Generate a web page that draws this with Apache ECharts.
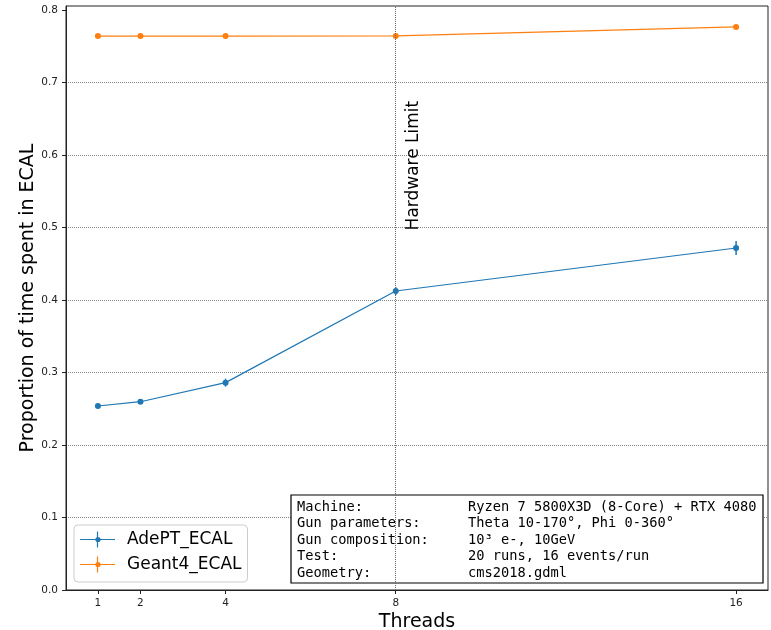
<!DOCTYPE html>
<html>
<head>
<meta charset="utf-8">
<script src="https://cdn.jsdelivr.net/npm/echarts@6/dist/echarts.min.js"></script>
<style>html,body{margin:0;padding:0;background:#fff}#c{width:771px;height:630px}</style>
</head>
<body>
<div id="c"></div>
<script>
const threads = [1, 2, 4, 8, 16];
const adeptValues = [0.2538, 0.2597, 0.2860, 0.4124, 0.4717];
const adeptErrors = [0.0015, 0.0015, 0.0055, 0.0055, 0.0097];
const geantValues = [0.7640, 0.7640, 0.7640, 0.7642, 0.7766];
const geantErrors = [0.0008, 0.0008, 0.0008, 0.0008, 0.0010];
const yTicks = [0.0, 0.1, 0.2, 0.3, 0.4, 0.5, 0.6, 0.7, 0.8];
const hardwareLimit = 8;
const infoLabels = ['Machine:', 'Gun parameters:', 'Gun composition:', 'Test:', 'Geometry:'];
const infoValues = ['Ryzen 7 5800X3D (8-Core) + RTX 4080', 'Theta 10-170°, Phi 0-360°', '10³ e-, 10GeV', '20 runs, 16 events/run', 'cms2018.gdml'];

const BLUE = '#1f77b4', ORANGE = '#ff7f0e';
const FONT = 'DejaVu Sans';
const legendIcon = 'path://M0,7.4 L35,7.4 L35,8.6 L0,8.6 Z M16.9,0 L18.1,0 L18.1,16 L16.9,16 Z M20.6,8 A2.6,2.6 0 1,1 15.4,8 A2.6,2.6 0 1,1 20.6,8 Z';

function pairs(xs, ys) { return xs.map((x, i) => [x, ys[i]]); }
function errData(xs, ys, es) { return xs.map((x, i) => [x, ys[i] - es[i], ys[i] + es[i]]); }

function errSeries(name, color, xs, ys, es) {
  return {
    type: 'custom', name: name, z: 3,
    data: errData(xs, ys, es),
    renderItem: function (params, api) {
      const lo = api.coord([api.value(0), api.value(1)]);
      const hi = api.coord([api.value(0), api.value(2)]);
      return { type: 'line', shape: { x1: lo[0], y1: lo[1], x2: hi[0], y2: hi[1] },
        style: { stroke: color, lineWidth: 1.5 } };
    },
    silent: true, legendHoverLink: false
  };
}

const chart = echarts.init(document.getElementById('c'), null, { renderer: 'canvas' });
const option = {
  animation: false,
  color: [BLUE, ORANGE],
  textStyle: { fontFamily: FONT },
  grid: { left: 66, right: 3, top: 6, bottom: 40, show: true, borderColor: '#222', borderWidth: 1,
    backgroundColor: 'transparent', containLabel: false, outerBoundsMode: 'none' },
  legend: {
    orient: 'vertical', left: 74, top: 525,
    data: [{ name: 'AdePT_ECAL', icon: legendIcon }, { name: 'Geant4_ECAL', icon: legendIcon }],
    itemWidth: 35, itemHeight: 16, itemGap: 8,
    padding: [6, 6, 9, 6],
    backgroundColor: 'rgba(255,255,255,0.85)', borderColor: '#cccccc', borderWidth: 1, borderRadius: 4,
    textStyle: { fontFamily: FONT, fontSize: 17, color: '#000', padding: [0, 0, 0, 7] }
  },
  xAxis: {
    type: 'value', min: 0.25, max: 16.75,
    name: 'Threads', nameLocation: 'middle', nameGap: 23, nameMoveOverlap: false,
    nameTextStyle: { fontFamily: FONT, fontSize: 19, color: '#000' },
    axisLine: { show: true, lineStyle: { color: '#222', width: 1 } },
    axisTick: { show: true, inside: false, length: 4, customValues: threads, lineStyle: { color: '#222' } },
    axisLabel: { customValues: threads, fontFamily: FONT, fontSize: 10.5, color: '#222', margin: 8 },
    splitLine: { show: false }
  },
  yAxis: {
    type: 'value', min: 0, max: 0.8055, interval: 0.1,
    name: 'Proportion of time spent in ECAL', nameLocation: 'middle', nameGap: 28, nameMoveOverlap: false,
    nameTextStyle: { fontFamily: FONT, fontSize: 19, color: '#000' },
    axisLine: { show: true, lineStyle: { color: '#222', width: 1 } },
    axisTick: { show: true, inside: false, length: 4, customValues: yTicks, lineStyle: { color: '#222' } },
    axisLabel: { customValues: yTicks, fontFamily: FONT, fontSize: 10.5, color: '#222', margin: 8,
      formatter: v => v.toFixed(1) },
    splitLine: { show: true, showMaxLine: false, lineStyle: { type: 'dotted', color: '#888', width: 1 } }
  },
  series: [
    {
      name: 'AdePT_ECAL', type: 'line', data: pairs(threads, adeptValues), z: 4,
      symbol: 'circle', symbolSize: 6, lineStyle: { width: 1.2, color: BLUE }, itemStyle: { color: BLUE },
      markLine: {
        silent: true, symbol: 'none', label: { show: false },
        lineStyle: { type: 'dotted', color: '#666', width: 1 },
        data: [{ xAxis: hardwareLimit }]
      }
    },
    {
      name: 'Geant4_ECAL', type: 'line', data: pairs(threads, geantValues), z: 4,
      symbol: 'circle', symbolSize: 6, lineStyle: { width: 1.2, color: ORANGE }, itemStyle: { color: ORANGE }
    },
    errSeries('AdePT_ECAL', BLUE, threads, adeptValues, adeptErrors),
    errSeries('Geant4_ECAL', ORANGE, threads, geantValues, geantErrors)
  ]
};
chart.setOption(option);

// annotations placed through the chart's own coordinate conversion
const textPos = chart.convertToPixel({ gridIndex: 0 }, [8.22, 0.496]);
const boxX = 291, boxY = 495, lineH = 16.6;
const infoChildren = [{
  type: 'rect', shape: { x: boxX, y: boxY, width: 472, height: 88 },
  style: { fill: '#fff', stroke: '#000', lineWidth: 1.2 }
}];
infoLabels.forEach((t, i) => {
  infoChildren.push({ type: 'text', x: boxX + 6, y: boxY + 12 + i * lineH,
    style: { text: t, fontFamily: 'DejaVu Sans Mono', fontSize: 13.7, fill: '#000', textVerticalAlign: 'middle' } });
  infoChildren.push({ type: 'text', x: 468, y: boxY + 12 + i * lineH,
    style: { text: infoValues[i], fontFamily: 'DejaVu Sans Mono', fontSize: 13.7, fill: '#000', textVerticalAlign: 'middle' } });
});
chart.setOption({
  graphic: [
    { type: 'text', x: textPos[0], y: textPos[1], rotation: Math.PI / 2, z: 10,
      style: { text: 'Hardware Limit', fontFamily: FONT, fontSize: 17, fill: '#000', textAlign: 'left', textVerticalAlign: 'top' } },
    { type: 'group', z: 20, children: infoChildren }
  ]
});
</script>
</body>
</html>
